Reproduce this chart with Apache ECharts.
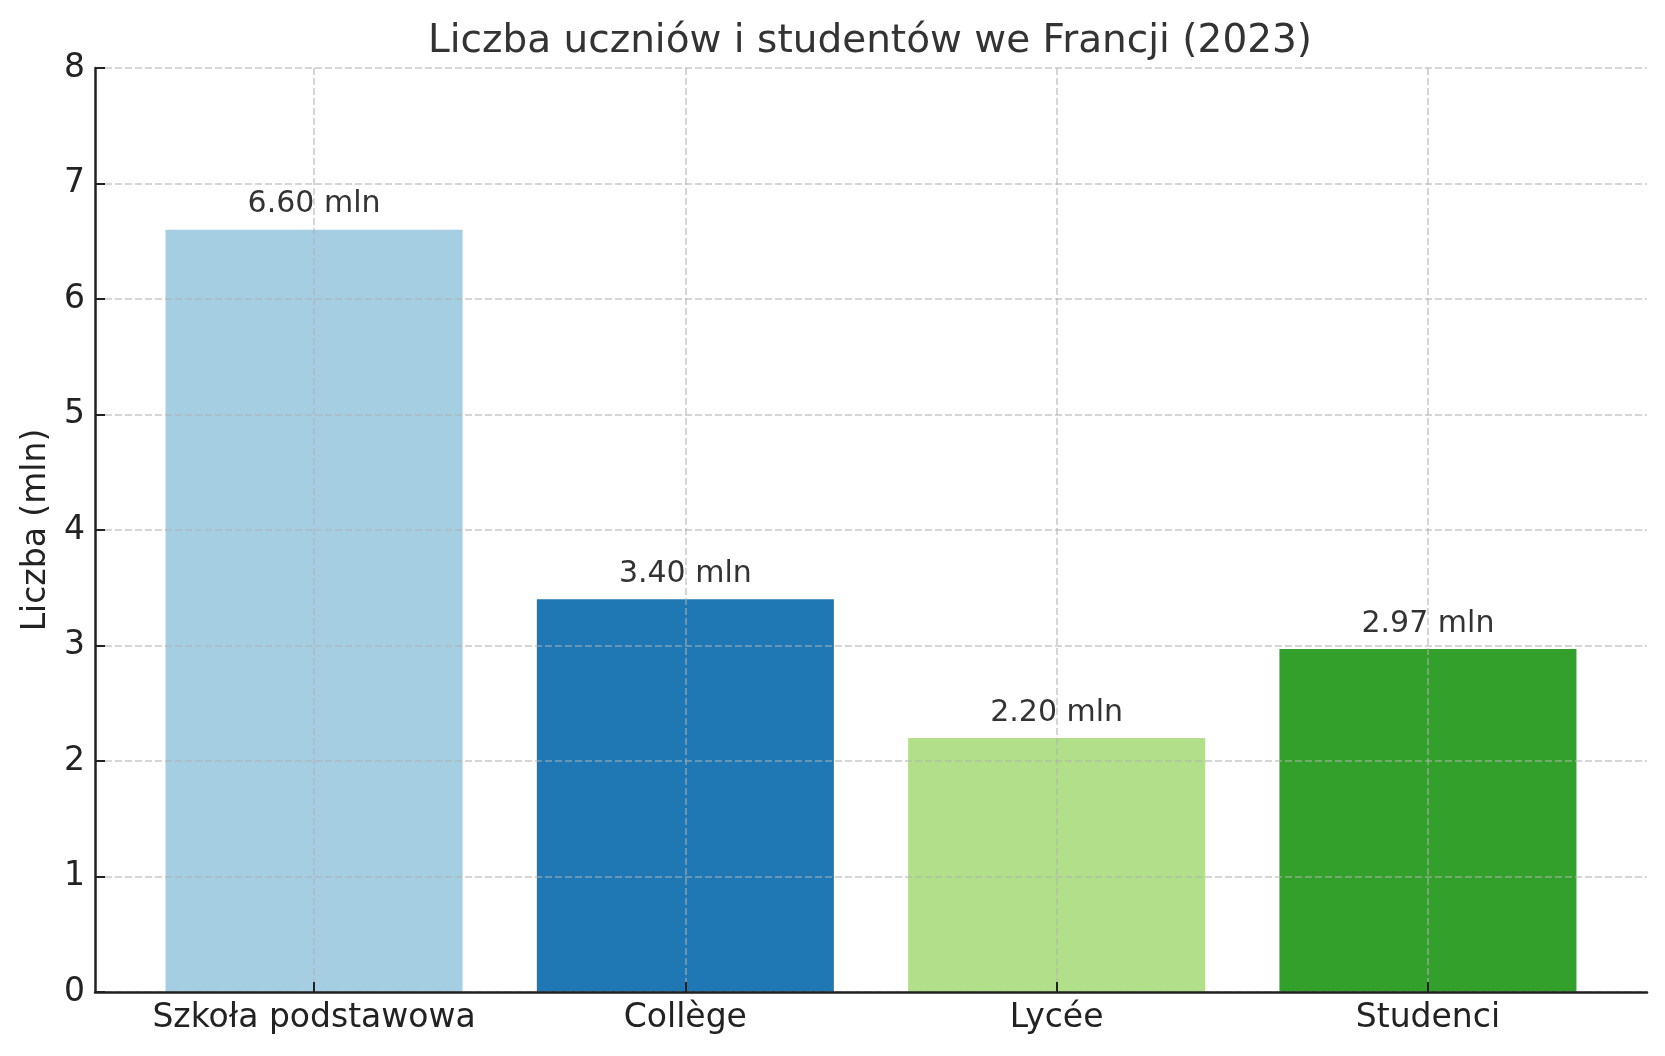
<!DOCTYPE html>
<html>
<head>
<meta charset="utf-8">
<script src="https://cdn.jsdelivr.net/npm/echarts@6/dist/echarts.min.js"></script>
<style>
	html, body { margin: 0; padding: 0; background: #fff; }
	#chart { width: 1665px; height: 1056px; }
</style>
</head>
<body>
<div id="chart"></div>
<script>
var categories = ['Szkoła podstawowa', 'Collège', 'Lycée', 'Studenci'];
var values = [6.60, 3.40, 2.20, 2.97];
var barColors = ['#a6cee3', '#1f78b4', '#b2df8a', '#33a02c'];
var positions = [0, 1, 2, 3];
var yTicks = [0, 1, 2, 3, 4, 5, 6, 7, 8];

var FONT = 'DejaVu Sans';
var gridLine = { show: true, lineStyle: { color: 'rgba(176,176,176,0.7)', width: 1.5, type: [7, 3] } };

var chart = echarts.init(document.getElementById('chart'), null, { renderer: 'canvas' });

chart.setOption({
	animation: false,
	backgroundColor: '#fff',
	title: {
		text: 'Liczba uczniów i studentów we Francji (2023)',
		left: 865, top: 17, textAlign: 'center',
		textStyle: { fontFamily: FONT, fontSize: 39, fontWeight: 'normal', color: '#333' }
	},
	grid: { left: 95, right: 18, top: 68, bottom: 64 },
	xAxis: {
		type: 'value',
		min: -0.59, max: 3.59,
		z: 3,
		axisLine: { show: true, onZero: false, lineStyle: { color: '#222', width: 2.5 } },
		axisTick: { show: true, inside: true, length: 10, customValues: positions, lineStyle: { color: '#222', width: 2 } },
		axisLabel: {
			customValues: positions, margin: 10,
			fontFamily: FONT, fontSize: 33, color: '#222',
			formatter: function(v) { return categories[Math.round(v)]; }
		},
		splitLine: gridLine
	},
	yAxis: {
		type: 'value',
		min: yTicks[0], max: yTicks[yTicks.length - 1], interval: 1,
		z: 3,
		name: 'Liczba (mln)', nameLocation: 'middle', nameGap: 41,
		nameTextStyle: { fontFamily: FONT, fontSize: 33, color: '#222' },
		axisLine: { show: true, onZero: false, lineStyle: { color: '#222', width: 2.5 } },
		axisTick: { show: true, inside: true, length: 10, lineStyle: { color: '#222', width: 2 } },
		axisLabel: { margin: 10, fontFamily: FONT, fontSize: 33, color: '#222',
			formatter: function(v) { return String(v); } },
		splitLine: gridLine
	},
	series: [{
		type: 'bar',
		barWidth: '80%',
		data: values.map(function(v, i) {
			return { value: [positions[i], v], itemStyle: { color: barColors[i] } };
		}),
		label: {
			show: true, position: 'top', distance: 10,
			fontFamily: FONT, fontSize: 30, color: '#333',
			formatter: function(p) { return p.value[1].toFixed(2) + ' mln'; }
		}
	}]
});
</script>
</body>
</html>
